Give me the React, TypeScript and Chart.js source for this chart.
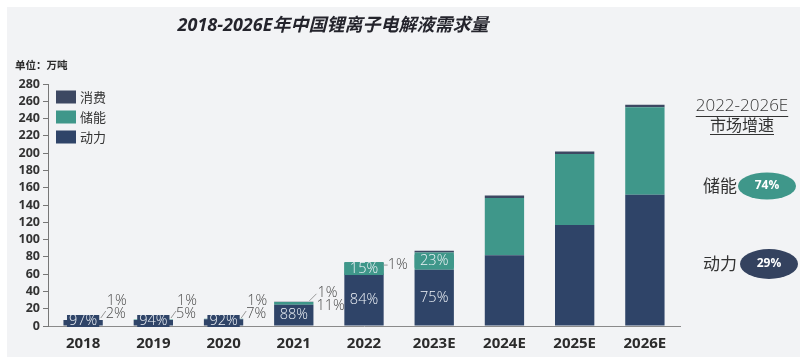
import React, { useEffect, useRef } from "react";
import { Chart, registerables } from "chart.js";

Chart.register(...registerables);

const categories = ["2018", "2019", "2020", "2021", "2022", "2023E", "2024E", "2025E", "2026E"];
const powerValues = [6.8, 7.0, 7.8, 24.6, 61, 65, 82, 117, 152];
const storageValues = [0.15, 0.4, 0.6, 3.1, 11, 20, 66, 82, 101];
const consumerValues = [0.07, 0.07, 0.08, 0.3, 0.8, 2, 3, 3, 3];

const powerPct = ["97%", "94%", "92%", "88%", "84%", "75%", "", "", ""];
const storagePct = ["2%", "5%", "7%", "11%", "15%", "23%", "", "", ""];
const consumerPct = ["1%", "1%", "1%", "1%", "1%", "", "", "", ""];

const seriesNames = ["动力", "储能", "消费"];
const legendOrder = ["消费", "储能", "动力"];
const growthNames = ["储能", "动力"];
const growthValues = ["74%", "29%"];

const titleText = "2018-2026E年中国锂离子电解液需求量";
const unitText = "单位：万吨";
const panelTitle = ["2022-2026E", "市场增速"];

const C_POWER = "#2f4468";
const C_STORAGE = "#3f978a";
const C_CONSUMER = "#3d4862";
const C_PILL_DARK = "#34425f";
const FONT = "'Open Sans', 'Noto Sans CJK SC', sans-serif";
const CJK = "'Noto Sans CJK SC', 'Open Sans', sans-serif";

const colorFor: Record<string, string> = {
  "动力": C_POWER,
  "储能": C_STORAGE,
  "消费": C_CONSUMER,
};

const decorPlugin = {
  id: "decor",
  beforeDraw(chart: any) {
    const ctx = chart.ctx;
    ctx.save();
    ctx.fillStyle = "#ffffff";
    ctx.fillRect(0, 0, chart.width, chart.height);
    ctx.fillStyle = "#f2f3f5";
    ctx.fillRect(7, 7, chart.width - 7, 350);
    ctx.restore();
  },
  afterDraw(chart: any) {
    const ctx = chart.ctx;
    ctx.save();
    // title
    ctx.fillStyle = "#24242c";
    ctx.font = `italic bold 18px ${FONT}`;
    ctx.textAlign = "center";
    ctx.textBaseline = "middle";
    ctx.fillText(titleText, 333, 26);

    // unit
    ctx.font = `bold 10.5px ${CJK}`;
    ctx.textAlign = "left";
    ctx.fillStyle = "#2a2a2a";
    ctx.fillText(unitText, 15, 65);

    // legend
    legendOrder.forEach((name, i) => {
      const y = 97 + i * 20;
      ctx.fillStyle = colorFor[name];
      ctx.fillRect(56, y - 6.5, 20, 13);
      ctx.fillStyle = "#333";
      ctx.font = `13px ${CJK}`;
      ctx.textAlign = "left";
      ctx.fillText(name, 80, y);
    });

    // labels
    const mP = chart.getDatasetMeta(0).data;
    const mS = chart.getDatasetMeta(1).data;
    const mC = chart.getDatasetMeta(2).data;
    for (let i = 0; i < categories.length; i++) {
      const p = mP[i];
      const s = mS[i];
      const c = mC[i];
      const right = p.x + p.width / 2;
      const stackTop = c.y;
      const pH = p.base - p.y;
      const sH = s.base - s.y;
      ctx.textBaseline = "middle";
      // power label
      if (powerPct[i]) {
        ctx.textAlign = "center";
        ctx.font = `300 14.5px ${FONT}`;
        if (pH >= 16) {
          ctx.fillStyle = "#eef2f7";
          ctx.fillText(powerPct[i], p.x, (p.y + p.base) / 2);
        } else {
          const w = ctx.measureText(powerPct[i]).width + 4;
          ctx.fillStyle = C_POWER;
          ctx.fillRect(p.x - w / 2, p.base - 10.5, w, 12);
          ctx.fillStyle = "#eef2f7";
          ctx.fillText(powerPct[i], p.x, p.base - 4.5);
        }
      }
      // storage label
      const yStor = Math.min(stackTop + 4, 314);
      ctx.font = `300 14.5px ${FONT}`;
      if (storagePct[i]) {
        if (sH >= 9) {
          ctx.fillStyle = C_STORAGE;
          const cy = (s.y + s.base) / 2;
          ctx.fillRect(p.x - p.width / 2, cy - 6.5, p.width, 13);
          ctx.fillStyle = "#eef2f7";
          ctx.textAlign = "center";
          ctx.fillText(storagePct[i], p.x, cy);
        } else {
          ctx.fillStyle = "#4a4a4a";
          ctx.textAlign = "left";
          ctx.fillText(storagePct[i], right + 3, yStor);
          if (i < 3) {
            ctx.strokeStyle = "#999";
            ctx.lineWidth = 1;
            ctx.beginPath();
            ctx.moveTo(right - 2, yStor + 4);
            ctx.lineTo(right + 3, yStor - 3);
            ctx.stroke();
          }
        }
      }
      // consumer label
      if (consumerPct[i]) {
        ctx.fillStyle = "#4a4a4a";
        ctx.textAlign = "left";
        ctx.strokeStyle = "#999";
        ctx.lineWidth = 1;
        if (sH >= 9) {
          const y = stackTop + 2;
          ctx.fillText(consumerPct[i], right + 4, y);
          ctx.beginPath();
          ctx.moveTo(right, y);
          ctx.lineTo(right + 4, y);
          ctx.stroke();
        } else {
          const y = yStor - 13;
          ctx.fillText(consumerPct[i], right + 4, y);
          if (i === 3) {
            ctx.beginPath();
            ctx.moveTo(right - 4, stackTop - 1);
            ctx.lineTo(right + 3, y + 1);
            ctx.stroke();
          }
        }
      }
    }

    // right panel
    ctx.fillStyle = "#333";
    ctx.textAlign = "center";
    ctx.textBaseline = "middle";
    ctx.font = `300 17px ${FONT}`;
    ctx.fillText(panelTitle[0], 742, 106);
    const w0 = ctx.measureText(panelTitle[0]).width;
    ctx.fillRect(742 - w0 / 2, 116, w0, 1);
    ctx.font = `16px ${CJK}`;
    ctx.fillText(panelTitle[1], 742, 125);
    const w1 = ctx.measureText(panelTitle[1]).width;
    ctx.fillRect(742 - w1 / 2, 134, w1, 1);

    growthNames.forEach((name, i) => {
      const cy = i === 0 ? 186 : 264;
      const cx = i === 0 ? 767 : 769;
      ctx.fillStyle = "#333";
      ctx.font = `17px ${CJK}`;
      ctx.textAlign = "center";
      ctx.fillText(name, 720, cy);
      ctx.fillStyle = i === 0 ? C_STORAGE : C_PILL_DARK;
      ctx.beginPath();
      ctx.ellipse(cx, cy, 29, i === 0 ? 13.5 : 15, 0, 0, Math.PI * 2);
      ctx.fill();
      ctx.fillStyle = "#ffffff";
      ctx.font = `bold 12px ${FONT}`;
      ctx.fillText(growthValues[i], cx, cy);
    });
    ctx.restore();
  },
};

export default function App() {
  const ref = useRef<HTMLCanvasElement | null>(null);
  useEffect(() => {
    if (!ref.current) return;
    const chart = new Chart(ref.current, {
      type: "bar",
      data: {
        labels: categories,
        datasets: [
          { label: seriesNames[0], data: powerValues, backgroundColor: C_POWER, barPercentage: 0.56, categoryPercentage: 1 },
          { label: seriesNames[1], data: storageValues, backgroundColor: C_STORAGE, barPercentage: 0.56, categoryPercentage: 1 },
          { label: seriesNames[2], data: consumerValues, backgroundColor: C_CONSUMER, barPercentage: 0.56, categoryPercentage: 1 },
        ],
      },
      options: {
        responsive: false,
        animation: false,
        layout: { padding: { top: 84, right: 120, bottom: 0, left: 0 } },
        plugins: { legend: { display: false }, tooltip: { enabled: false }, title: { display: false } },
        scales: {
          x: {
            stacked: true,
            grid: { display: false, drawTicks: false },
            border: { display: true, color: "#8a8a8a", width: 1 },
            ticks: { font: { family: FONT, size: 15, weight: "bold" }, color: "#2b2b2b", padding: 9, autoSkip: false, maxRotation: 0 },
            afterFit: (s: any) => { s.height = 38; },
          },
          y: {
            stacked: true,
            min: 0,
            max: 280,
            ticks: { stepSize: 20, autoSkip: false, font: { family: FONT, size: 12.5, weight: "bold" }, color: "#333", padding: 3 },
            grid: { drawOnChartArea: false, tickLength: 5, color: "#777" },
            border: { display: true, color: "#777" },
            afterFit: (s: any) => { s.width = 48; },
          },
        },
      },
      plugins: [decorPlugin],
    } as any);
    return () => chart.destroy();
  }, []);
  return (
    <div style={{ position: "absolute", left: 0, top: 0, width: 800, height: 364 }}>
      <canvas ref={ref} width={800} height={364} style={{ display: "block" }} />
    </div>
  );
}
